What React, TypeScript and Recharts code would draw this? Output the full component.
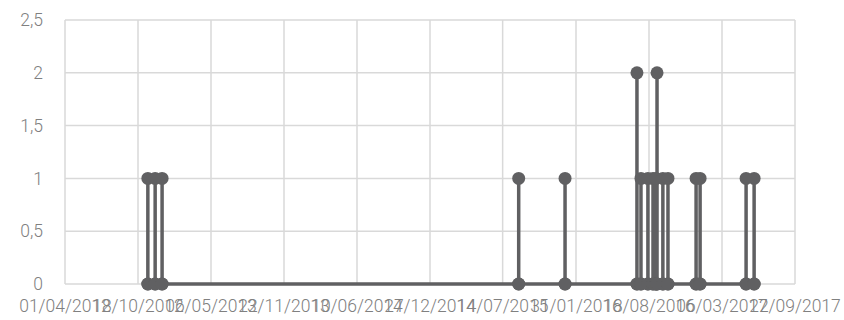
import React from 'react';
import {
  LineChart,
  Line,
  XAxis,
  YAxis,
  CartesianGrid,
} from 'recharts';

// axis labels as shown on the chart
const tickLabels = [
  '01/04/2012',
  '18/10/2012',
  '06/05/2013',
  '22/11/2013',
  '10/06/2014',
  '27/12/2014',
  '14/07/2015',
  '31/01/2016',
  '18/08/2016',
  '06/03/2017',
  '22/09/2017',
];
const yTicks = [0, 0.5, 1, 1.5, 2, 2.5];

// events (date, count)
const eventDates = [
  '14/11/2012',
  '04/12/2012',
  '23/12/2012',
  '27/08/2015',
  '01/01/2016',
  '16/07/2016',
  '27/07/2016',
  '15/08/2016',
  '29/08/2016',
  '06/09/2016',
  '09/09/2016',
  '25/09/2016',
  '09/10/2016',
  '25/12/2016',
  '05/01/2017',
  '11/05/2017',
  '02/06/2017',
];
const eventValues = [1, 1, 1, 1, 1, 2, 1, 1, 1, 1, 2, 1, 1, 1, 1, 1, 1];

const toDay = (s: string) => {
  const [d, m, y] = s.split('/').map(Number);
  return Date.UTC(y, m - 1, d) / 86400000;
};

const xTicks = tickLabels.map(toDay);

// each event: up from the zero line and back down
const data = eventDates.flatMap((d, i) => {
  const x = toDay(d);
  return [
    { x, y: 0 },
    { x, y: eventValues[i] },
    { x, y: 0 },
  ];
});

const lineColor = '#606062';
const gridColor = '#d9d9d9';
const textStyle = {
  fontFamily: 'Roboto, sans-serif',
  fontWeight: 300,
  fontSize: 17.5,
  fill: '#808080',
};

const App: React.FC = () => {
  return (
    <div style={{ position: 'absolute', left: 0, top: 0, width: 844, height: 320, background: '#fff' }}>
      <LineChart
        width={844}
        height={320}
        data={data}
        margin={{ top: 20, right: 49, left: 0, bottom: 0 }}
      >
        <CartesianGrid stroke={gridColor} strokeWidth={1.5} />
        <XAxis
          dataKey="x"
          type="number"
          domain={[xTicks[0], xTicks[xTicks.length - 1]]}
          ticks={xTicks}
          interval={0}
          height={36}
          tickSize={0}
          tickMargin={16}
          tickLine={false}
          axisLine={false}
          tick={textStyle}
          tickFormatter={(v: number) => tickLabels[xTicks.indexOf(v)] ?? ''}
        />
        <YAxis
          type="number"
          domain={[0, 2.5]}
          ticks={yTicks}
          interval={0}
          width={65}
          tickSize={0}
          tickMargin={22}
          tickLine={false}
          axisLine={false}
          tick={textStyle}
          tickFormatter={(v: number) => String(v).replace('.', ',')}
        />
        <Line
          dataKey="y"
          type="linear"
          stroke={lineColor}
          strokeWidth={3.5}
          dot={{ r: 6.5, fill: lineColor, stroke: lineColor, strokeWidth: 0 }}
          activeDot={false}
          isAnimationActive={false}
        />
      </LineChart>
    </div>
  );
};

export default App;
